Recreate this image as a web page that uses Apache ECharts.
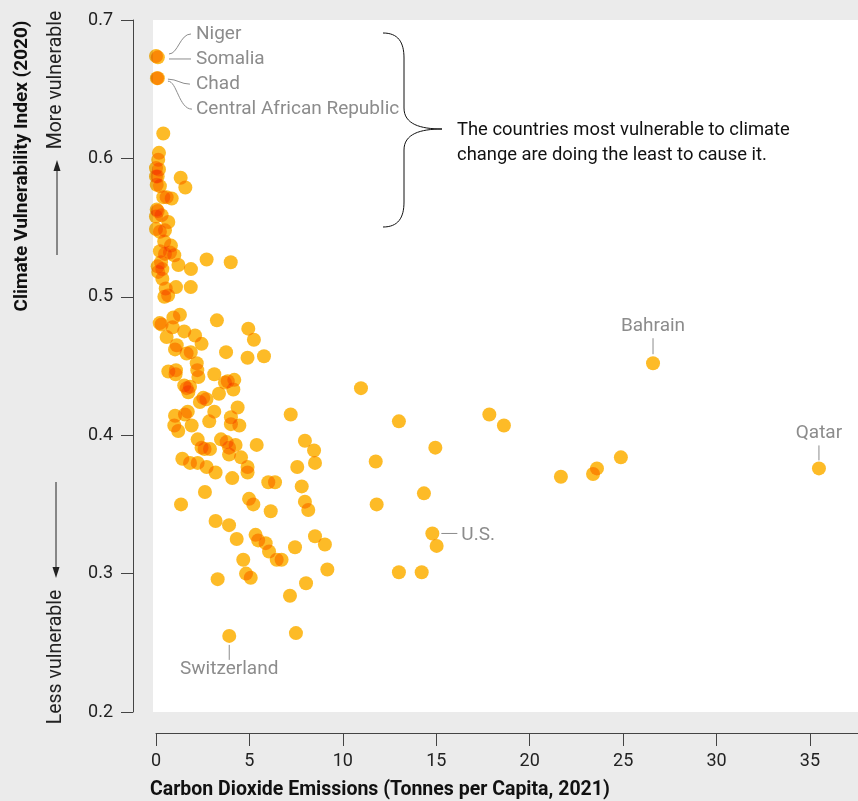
<!DOCTYPE html>
<html><head><meta charset="utf-8">
<script src="https://cdn.jsdelivr.net/npm/echarts@6/dist/echarts.min.js"></script>
<style>html,body{margin:0;padding:0;background:#ebebeb}#c{width:858px;height:801px}</style>
</head><body><div id="c"></div>
<script>
// CO2 emissions (tonnes per capita, 2021)
const emissions = [
  0.0,0.1,0.05,0.1,
  0.39,0.16,0.12,0.0,0.16,0.0,0.09,0.04,0.21,1.32,
  1.57,0.39,0.57,0.84,0.04,0.09,0.0,0.3,0.66,0.0,
  0.21,0.48,0.44,0.8,0.21,0.48,0.75,0.98,0.27,0.09,
  0.34,1.2,1.87,2.71,4.0,
  0.12,0.34,0.52,1.07,1.86,0.45,0.65,0.2,0.3,0.93,
  1.28,0.89,0.57,1.51,2.09,2.44,1.11,1.02,1.64,1.86,
  3.26,3.75,4.94,5.24,4.9,5.78,0.66,1.07,1.05,2.18,
  2.21,2.27,1.51,1.64,1.82,1.73,3.12,3.69,3.84,4.19,
  4.14,3.37,2.53,2.7,2.35,3.12,4.37,4.01,7.21,1.02,
  1.7,1.55,0.98,1.19,1.91,2.85,4.01,4.46,
  2.23,2.44,2.6,2.89,3.48,3.78,3.91,4.26,3.91,4.55,
  5.39,4.9,4.9,1.41,1.82,2.23,2.71,3.19,4.08,2.62,
  1.34,6.01,6.37,4.98,5.21,6.14,3.19,3.91,4.32,5.33,
  5.47,5.87,6.05,7.44,7.97,8.46,8.51,7.56,7.8,7.97,
  8.15,8.51,9.04,
  10.97,11.76,11.81,6.46,6.72,4.67,4.82,5.07,9.17,8.03,
  7.17,3.3,3.92,7.49,14.79,15.02,13.0,17.84,18.62,14.95,
  14.34,13.0,14.22,21.67,23.39,23.6,24.88,26.6,35.48
];
// Climate vulnerability index (2020)
const vulnerability = [
  0.674,0.673,0.658,0.658,
  0.618,0.604,0.599,0.593,0.592,0.587,0.587,0.581,0.580,0.586,
  0.579,0.572,0.572,0.571,0.563,0.562,0.558,0.559,0.554,0.549,
  0.547,0.548,0.540,0.537,0.533,0.531,0.532,0.530,0.525,0.522,
  0.520,0.523,0.520,0.527,0.525,
  0.518,0.513,0.506,0.507,0.507,0.500,0.501,0.481,0.480,0.485,
  0.487,0.478,0.471,0.475,0.472,0.466,0.465,0.462,0.459,0.460,
  0.483,0.460,0.477,0.469,0.456,0.457,0.446,0.447,0.444,0.452,
  0.447,0.442,0.436,0.434,0.435,0.431,0.444,0.438,0.439,0.440,
  0.433,0.430,0.427,0.426,0.424,0.417,0.420,0.413,0.415,0.414,
  0.417,0.415,0.407,0.403,0.407,0.410,0.408,0.407,
  0.397,0.391,0.390,0.390,0.397,0.395,0.391,0.393,0.386,0.384,
  0.393,0.377,0.373,0.383,0.380,0.380,0.377,0.373,0.369,0.359,
  0.350,0.366,0.366,0.354,0.350,0.345,0.338,0.335,0.325,0.328,
  0.324,0.322,0.316,0.319,0.396,0.389,0.380,0.377,0.363,0.352,
  0.346,0.327,0.321,
  0.434,0.381,0.350,0.310,0.310,0.310,0.300,0.297,0.303,0.293,
  0.284,0.296,0.255,0.257,0.329,0.320,0.410,0.415,0.407,0.391,
  0.358,0.301,0.301,0.370,0.372,0.376,0.384,0.452,0.376
];
const labelNames = ['Niger','Somalia','Chad','Central African Republic','Switzerland','U.S.','Bahrain','Qatar'];
const labelIndex = [0,1,2,3,152,154,167,168];
const xTicks = [0,5,10,15,20,25,30,35];
const yTicks = [0.2,0.3,0.4,0.5,0.6,0.7];
const calloutLines = ['The countries most vulnerable to climate','change are doing the least to cause it.'];

const FONT = 'Roboto, "Liberation Sans", sans-serif';
const GRAY = '#8c8c8c';
const chart = echarts.init(document.getElementById('c'), null, {renderer:'canvas'});
const data = emissions.map((x,i)=>[x, vulnerability[i]]);
chart.setOption({
  backgroundColor:'#ebebeb',
  animation:false,
  grid:[
    {left:153,right:0,top:20,bottom:89,show:true,backgroundColor:'#ffffff',borderWidth:0},
    {left:156,right:0,bottom:68,height:10,show:false}
  ],
  xAxis:[
    {gridIndex:0,type:'value',min:-0.16,max:37.57,show:false},
    {gridIndex:1,type:'value',min:xTicks[0],max:37.57,interval:5,
     axisLine:{show:true,onZero:false,lineStyle:{color:'#444',width:1}},
     axisTick:{show:true,length:13,lineStyle:{color:'#444'}},
     axisLabel:{margin:19,fontSize:18,color:'#222',fontFamily:FONT,showMaxLabel:false,
       formatter:v=> xTicks.indexOf(v)>=0 ? String(v) : ''},
     splitLine:{show:false}}
  ],
  yAxis:[
    {gridIndex:0,type:'value',min:yTicks[0],max:yTicks[yTicks.length-1],interval:0.1,offset:20,
     axisLine:{show:true,onZero:false,lineStyle:{color:'#444',width:1}},
     axisTick:{show:true,length:12,lineStyle:{color:'#444'}},
     axisLabel:{margin:20,fontSize:18,color:'#222',fontFamily:FONT,formatter:v=>v.toFixed(1)},
     splitLine:{show:false}},
    {gridIndex:1,type:'value',show:false}
  ],
  series:[{type:'scatter',xAxisIndex:0,yAxisIndex:0,data:data,symbolSize:14,silent:true,
    blendMode:'multiply',
    itemStyle:{color:'rgb(253,181,21)',opacity:0.92}}]
});

const P = i => chart.convertToPixel({seriesIndex:0}, data[labelIndex[i]]);
const g = [];
const txt = (x,y,text,opt) => Object.assign({type:'text',x:x,y:y,silent:true,
  style:Object.assign({text:text,fontSize:19,fontFamily:FONT,fill:GRAY,align:'left',verticalAlign:'middle'},opt||{})});
const line = (x1,y1,x2,y2,c) => ({type:'line',silent:true,shape:{x1,y1,x2,y2},style:{stroke:c||GRAY,lineWidth:1}});
const bez = (x1,y1,cpx1,cpy1,cpx2,cpy2,x2,y2,c) => ({type:'bezierCurve',silent:true,shape:{x1,y1,cpx1,cpy1,cpx2,cpy2,x2,y2},style:{stroke:c||GRAY,lineWidth:1,fill:null}});

// top-left group
const pn = P(0), pc = P(2);
g.push(txt(pn[0]+40, pn[1]-22, labelNames[0]));
g.push(txt(pn[0]+40, pn[1]+3, labelNames[1]));
g.push(txt(pn[0]+40, pc[1]+6, labelNames[2]));
g.push(txt(pn[0]+40, pc[1]+31, labelNames[3]));
g.push(bez(pn[0]+13,pn[1]-2, pn[0]+22,pn[1]-2, pn[0]+24,pn[1]-22, pn[0]+35,pn[1]-22));
g.push(line(pn[0]+13,pn[1]+3, pn[0]+35,pn[1]+3));
g.push(bez(pc[0]+11,pc[1]+1, pc[0]+20,pc[1]+1, pc[0]+24,pc[1]+6, pc[0]+33,pc[1]+6));
g.push(bez(pc[0]+11,pc[1]+3, pc[0]+20,pc[1]+3, pc[0]+22,pc[1]+31, pc[0]+35,pc[1]+31));

// Switzerland
const ps = P(4);
g.push(line(ps[0], ps[1]+9, ps[0], ps[1]+24));
g.push(txt(ps[0], ps[1]+33, labelNames[4], {align:'center'}));
// U.S.
const pu = P(5);
g.push(line(pu[0]+9, pu[1], pu[0]+25, pu[1]));
g.push(txt(pu[0]+29, pu[1]+2, labelNames[5]));
// Bahrain
const pb = P(6);
g.push(line(pb[0], pb[1]-9, pb[0], pb[1]-25));
g.push(txt(pb[0], pb[1]-37, labelNames[6], {align:'center'}));
// Qatar
const pq = P(7);
g.push(line(pq[0], pq[1]-8, pq[0], pq[1]-23));
g.push(txt(pq[0], pq[1]-35, labelNames[7], {align:'center'}));

// brace + callout
const K = '#111';
g.push(bez(383,33, 398,33, 404,42, 404,58, K));
g.push(line(404,58, 404,108, K));
g.push(bez(404,108, 404,124, 420,129, 442,129, K));
g.push(bez(442,129, 420,129, 404,134, 404,150, K));
g.push(line(404,150, 404,202, K));
g.push(bez(404,202, 404,218, 398,227, 383,227, K));
g.push(txt(457,130, calloutLines[0], {fill:K, fontSize:18.4}));
g.push(txt(457,155, calloutLines[1], {fill:K, fontSize:18.4}));

// axis titles
g.push(txt(150,790,'Carbon Dioxide Emissions (Tonnes per Capita, 2021)',{fill:'#111',fontWeight:'bold',fontSize:19.5}));
g.push(Object.assign(txt(22,166,'Climate Vulnerability Index (2020)',{fill:'#111',fontWeight:'bold',fontSize:19,align:'center'}),{rotation:Math.PI/2}));
g.push(Object.assign(txt(56,80,'More vulnerable',{fill:'#222',fontSize:19.5,align:'center'}),{rotation:Math.PI/2}));
g.push(Object.assign(txt(56,657,'Less vulnerable',{fill:'#222',fontSize:19.5,align:'center'}),{rotation:Math.PI/2}));
// arrows
g.push(line(57,255,57,168,'#222'));
g.push({type:'polygon',silent:true,shape:{points:[[57,160],[53.5,171],[60.5,171]]},style:{fill:'#222'}});
g.push(line(56,482,56,570,'#222'));
g.push({type:'polygon',silent:true,shape:{points:[[56,578],[52.5,567],[59.5,567]]},style:{fill:'#222'}});

chart.setOption({graphic:{elements:g}});
</script>
</body></html>
